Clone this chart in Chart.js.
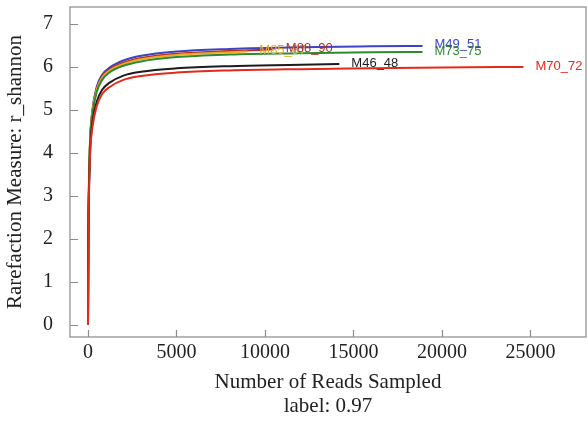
<!DOCTYPE html>
<html>
<head>
<meta charset="utf-8">
<script src="https://cdn.jsdelivr.net/npm/chart.js@4/dist/chart.umd.min.js"></script>
<style>
  html, body { margin: 0; padding: 0; background: #fff; overflow: hidden; }
  #wrap { width: 587px; height: 423px; }
</style>
</head>
<body>
<div id="wrap"><canvas id="rarefactionChart"></canvas></div>
<script>
// rarefaction curves
const sampleNames = ['M70_72', 'M46_48', 'M73_75', 'M85_87', 'M88_90', 'M49_51'];
const sampleColors = ['#e42a1c', '#1c1c1c', '#2f8a2f', '#eea62a', '#b2301e', '#3d44c4'];

const readsM70_72 = [0, 20, 60, 120, 250, 500, 800, 1200, 2000, 3000, 5000, 8000, 12000, 16000, 20000, 24600];
const valuesM70_72 = [0, 1.9, 3.15, 4.0, 4.6, 5.1, 5.37, 5.53, 5.7, 5.79, 5.87, 5.92, 5.95, 5.97, 5.99, 6.0];

const readsM46_48 = [0, 20, 60, 120, 250, 500, 800, 1200, 2000, 3000, 5000, 8000, 12000, 14200];
const valuesM46_48 = [0, 1.9, 3.2, 4.05, 4.7, 5.2, 5.47, 5.63, 5.8, 5.89, 5.97, 6.02, 6.05, 6.07];

const readsM73_75 = [0, 20, 60, 120, 250, 500, 800, 1200, 2000, 3000, 5000, 8000, 12000, 16000, 18900];
const valuesM73_75 = [0, 2.0, 3.35, 4.25, 4.9, 5.43, 5.7, 5.87, 6.03, 6.13, 6.23, 6.29, 6.32, 6.34, 6.35];

const readsM85_87 = [0, 20, 60, 120, 250, 500, 800, 1200, 2000, 3000, 5000, 8000, 9000];
const valuesM85_87 = [0, 2.0, 3.4, 4.28, 4.95, 5.48, 5.75, 5.91, 6.07, 6.18, 6.28, 6.34, 6.36];

const readsM88_90 = [0, 20, 60, 120, 250, 500, 800, 1200, 2000, 3000, 5000, 8000, 10500];
const valuesM88_90 = [0, 2.0, 3.4, 4.3, 4.98, 5.5, 5.78, 5.94, 6.1, 6.21, 6.31, 6.37, 6.41];

const readsM49_51 = [0, 20, 60, 120, 250, 500, 800, 1200, 2000, 3000, 5000, 8000, 12000, 16000, 18900];
const valuesM49_51 = [0, 2.0, 3.4, 4.3, 5.0, 5.55, 5.82, 5.98, 6.15, 6.26, 6.36, 6.42, 6.46, 6.48, 6.49];

const xTicks = [0, 5000, 10000, 15000, 20000, 25000];
const yTicks = [0, 1, 2, 3, 4, 5, 6, 7];

const allReads = [readsM70_72, readsM46_48, readsM73_75, readsM85_87, readsM88_90, readsM49_51];
const allValues = [valuesM70_72, valuesM46_48, valuesM73_75, valuesM85_87, valuesM88_90, valuesM49_51];

const datasets = sampleNames.map(function(name, i) {
    return {
        label: name,
        data: allReads[i].map(function(x, j) { return { x: x, y: allValues[i][j] }; }),
        borderColor: sampleColors[i],
        borderWidth: 2,
        pointRadius: 0,
        fill: false,
        cubicInterpolationMode: 'monotone'
    };
});

// frame, inner tick marks and end-of-line labels
const decorations = {
    id: 'decorations',
    afterDatasetsDraw(chart) {
        const ctx = chart.ctx;
        const area = chart.chartArea;
        const xs = chart.scales.x;
        const ys = chart.scales.y;
        ctx.save();
        ctx.strokeStyle = '#8a8a8a';
        ctx.lineWidth = 1.2;
        ctx.strokeRect(area.left, area.top, area.right - area.left, area.bottom - area.top);
        ctx.beginPath();
        xTicks.forEach(function(v) {
            const px = Math.round(xs.getPixelForValue(v)) + 0.5;
            ctx.moveTo(px, area.bottom);
            ctx.lineTo(px, area.bottom - 7);
        });
        yTicks.forEach(function(v) {
            const py = Math.round(ys.getPixelForValue(v)) + 0.5;
            ctx.moveTo(area.left, py);
            ctx.lineTo(area.left + 8, py);
        });
        ctx.stroke();

        ctx.font = '13px "Liberation Sans", Arial, sans-serif';
        ctx.textBaseline = 'middle';
        ctx.textAlign = 'left';
        chart.data.datasets.forEach(function(ds) {
            const last = ds.data[ds.data.length - 1];
            ctx.fillStyle = ds.borderColor;
            ctx.fillText(ds.label, xs.getPixelForValue(last.x) + 12, ys.getPixelForValue(last.y) - 1);
        });
        ctx.restore();
    }
};

const serif = '"Liberation Serif", "Times New Roman", serif';

function noPadding(scale) {
    scale.paddingTop = 0;
    scale.paddingBottom = 0;
    scale.paddingLeft = 0;
    scale.paddingRight = 0;
}

new Chart(document.getElementById('rarefactionChart').getContext('2d'), {
    type: 'line',
    data: { datasets: datasets },
    plugins: [decorations],
    options: {
        responsive: true,
        maintainAspectRatio: false,
        animation: false,
        layout: { padding: { top: 7, right: 1, left: 0, bottom: 0 } },
        plugins: {
            legend: { display: false },
            tooltip: { enabled: false }
        },
        scales: {
            x: {
                type: 'linear',
                min: -1017,
                max: 28136,
                afterBuildTicks: function(scale) {
                    scale.ticks = xTicks.map(function(v) { return { value: v }; });
                },
                grid: { display: false, drawTicks: false },
                border: { display: false },
                ticks: {
                    color: '#222',
                    font: { family: serif, size: 20 },
                    padding: 4,
                    maxRotation: 0,
                    autoSkip: false,
                    callback: function(v) { return String(v); }
                },
                title: {
                    display: true,
                    text: ['Number of Reads Sampled', 'label: 0.97'],
                    color: '#222',
                    font: { family: serif, size: 21, lineHeight: 1.15 },
                    padding: { top: 0, bottom: 4 }
                },
                afterFit: function(scale) { scale.height = 86; noPadding(scale); }
            },
            y: {
                type: 'linear',
                min: -0.279,
                max: 7.395,
                afterBuildTicks: function(scale) {
                    scale.ticks = yTicks.map(function(v) { return { value: v }; });
                },
                grid: { display: false, drawTicks: false },
                border: { display: false },
                ticks: {
                    color: '#222',
                    font: { family: serif, size: 20 },
                    padding: 17,
                    callback: function(v) { return String(v); }
                },
                title: {
                    display: true,
                    text: 'Rarefaction Measure: r_shannon',
                    color: '#222',
                    font: { family: serif, size: 21 },
                    padding: { top: 3, bottom: 0 }
                },
                afterFit: function(scale) { scale.width = 70; noPadding(scale); }
            }
        }
    }
});
</script>
</body>
</html>
